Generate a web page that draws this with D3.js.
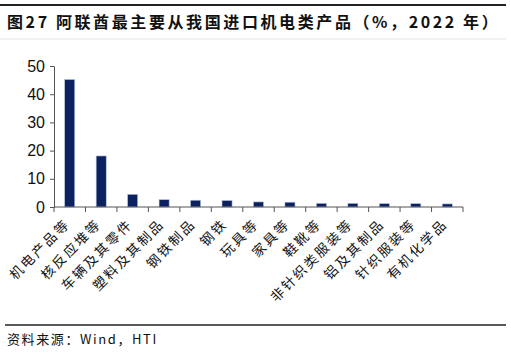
<!DOCTYPE html>
<html>
<head>
<meta charset="utf-8">
<script src="https://cdn.jsdelivr.net/npm/d3@7"></script>
<style>
  body { margin: 0; background: #fff; }
  svg { display: block; }
</style>
</head>
<body>
<div id="chart"></div>
<script>
// data
const categories = ["机电产品等", "核反应堆等", "车辆及其零件", "塑料及其制品", "钢铁制品", "钢铁",
  "玩具等", "家具等", "鞋靴等", "非针织类服装等", "铝及其制品", "针织服装等", "有机化学品"];
const shares = [45.2, 18.1, 4.5, 2.6, 2.4, 2.3, 1.8, 1.7, 1.3, 1.3, 1.2, 1.2, 1.1];
const yTicks = [0, 10, 20, 30, 40, 50];

const W = 511, H = 354;
const margin = { top: 66, left: 54, right: 48, bottom: 147 };
const cjk = "'Noto Sans CJK SC', sans-serif";

const svg = d3.select("#chart").append("svg")
  .attr("width", W)
  .attr("height", H);

// frame lines and title
svg.append("line").attr("x1", 0).attr("x2", 506).attr("y1", 5).attr("y2", 5)
  .attr("stroke", "#222").attr("stroke-width", 2);
svg.append("line").attr("x1", 0).attr("x2", 506).attr("y1", 39).attr("y2", 39)
  .attr("stroke", "#e2e2e2").attr("stroke-width", 1);
svg.append("text")
  .attr("x", 7).attr("y", 28)
  .attr("font-family", cjk).attr("font-size", 16).attr("font-weight", "bold")
  .attr("letter-spacing", 2.6)
  .attr("fill", "#111")
  .text("图27 阿联酋最主要从我国进口机电类产品（%，2022 年）");

svg.append("line").attr("x1", 5).attr("x2", 506).attr("y1", 325).attr("y2", 325)
  .attr("stroke", "#222").attr("stroke-width", 1.5);
svg.append("text")
  .attr("x", 7).attr("y", 344)
  .attr("font-family", cjk).attr("font-size", 13)
  .attr("letter-spacing", 1.6)
  .attr("fill", "#111")
  .text("资料来源：Wind，HTI");

const g = svg.append("g")
  .attr("transform", `translate(${margin.left},${margin.top})`);

const width = W - margin.left - margin.right;   // ~409
const height = H - margin.top - margin.bottom;  // ~141

const x = d3.scaleBand()
  .domain(categories)
  .range([0, width])
  .paddingInner(0.68)
  .paddingOuter(0.34);

const y = d3.scaleLinear()
  .domain([0, 50])
  .range([height, 0]);

// bars
g.selectAll(".bar")
  .data(categories)
  .enter()
  .append("rect")
  .attr("class", "bar")
  .attr("x", d => x(d))
  .attr("width", x.bandwidth())
  .attr("y", (d, i) => y(shares[i]))
  .attr("height", (d, i) => y(0) - y(shares[i]))
  .attr("fill", "#0b2160")
  .attr("stroke", "#b7c3dd")
  .attr("stroke-width", 0.6);

// y axis
const yAxis = d3.axisLeft(y).tickValues(yTicks).tickSize(4).tickPadding(5);
const gy = g.append("g").call(yAxis);
gy.select(".domain").attr("stroke", "#555");
gy.selectAll(".tick line").attr("stroke", "#555");
gy.selectAll(".tick text")
  .attr("font-family", "'Liberation Sans', Arial, sans-serif")
  .attr("font-size", 16)
  .attr("fill", "#111");

// x axis with ticks at band boundaries
const boundaries = d3.range(categories.length + 1).map(i => i * width / categories.length);
const gx = g.append("g").attr("transform", `translate(0,${height})`);
gx.append("line")
  .attr("x1", 0).attr("x2", width)
  .attr("stroke", "#555").attr("stroke-width", 1.2);
gx.selectAll(".xt")
  .data(boundaries)
  .enter()
  .append("line")
  .attr("class", "xt")
  .attr("x1", d => d).attr("x2", d => d)
  .attr("y1", 0).attr("y2", 5)
  .attr("stroke", "#555");

gx.selectAll(".xl")
  .data(categories)
  .enter()
  .append("text")
  .attr("class", "xl")
  .attr("text-anchor", "end")
  .attr("transform", d => `translate(${x(d) + x.bandwidth() / 2 + 1},${18}) rotate(-45)`)
  .attr("font-family", cjk)
  .attr("font-size", 13.5)
  .attr("letter-spacing", 2.2)
  .attr("fill", "#111")
  .text(d => d);
</script>
</body>
</html>
